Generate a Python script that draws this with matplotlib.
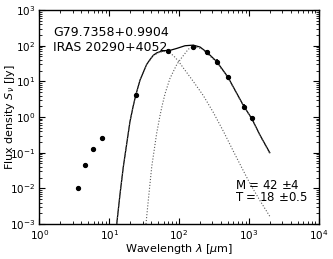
import numpy as np
import matplotlib
matplotlib.use("Agg")
import matplotlib.pyplot as plt

# photometry (IRAC, no error bars)
wav_irac = [3.6, 4.5, 5.8, 8.0]
flux_irac = [0.010, 0.045, 0.13, 0.26]

# photometry used in the fit
wav_fit = [24, 70, 160, 250, 350, 500, 850, 1100]
flux_fit = [4.1, 72, 93, 65, 36, 13.5, 1.95, 0.92]
err_fit = [0.6, 11, 14, 10, 5.4, 2.0, 0.3, 0.14]

# total SED model
wav_tot = [12.8, 14.3, 15.9, 17.8, 19.8, 22, 24, 27.6, 34.4, 38.4, 42.8, 47.9,
           53.4, 63, 74, 92.7, 122, 160, 200, 255, 347, 499, 850, 1100, 1450, 2000]
flux_tot = [1e-3, 0.0072, 0.040, 0.18, 0.74, 2.0, 4.1, 10.9, 30, 41, 54, 63,
            68, 73, 74, 84, 100, 104, 92, 64, 36, 13.5, 2.0, 0.92, 0.31, 0.1]

# warm component
wav_warm = [12.8, 14.3, 15.9, 17.8, 19.8, 22, 24, 27.6, 34.4, 42.8, 53.4, 63, 74,
            83, 98, 115, 160, 223, 310, 432, 601, 793, 1042, 1449, 2017]
flux_warm = [1e-3, 0.0072, 0.040, 0.18, 0.74, 2.0, 4.1, 10.9, 30, 53, 67, 69, 62,
             53, 37, 24, 10, 4.0, 1.35, 0.40, 0.11, 0.038, 0.0135, 0.0045, 0.0016]

# cold component
wav_cold = [33.6, 36.3, 40.6, 47.8, 53.4, 57, 63, 74, 83, 93, 109, 136, 160,
            211, 255, 347, 499, 850, 1100, 1450, 2000]
flux_cold = [1e-3, 0.0047, 0.040, 0.35, 1.1, 2.0, 4.5, 12, 19, 30, 46, 80, 95,
             82, 60, 34, 13, 1.95, 0.9, 0.3, 0.095]

fig = plt.figure(figsize=(3.33, 2.59), dpi=100)
ax = fig.add_axes([0.1186, 0.1351, 0.838, 0.826])

ax.plot(wav_tot, flux_tot, 'k-', lw=0.9)
ax.plot(wav_warm, flux_warm, ls=':', color='0.35', lw=0.8)
ax.plot(wav_cold, flux_cold, ls=':', color='0.35', lw=0.8)
ax.plot(wav_irac, flux_irac, 'ko', ms=2.8)
ax.errorbar(wav_fit, flux_fit, yerr=err_fit, fmt='ko', ms=2.8, elinewidth=1.2, capsize=0)

ax.set_xscale('log')
ax.set_yscale('log')
ax.set_xlim(1, 1e4)
ax.set_ylim(1e-3, 1e3)

ax.tick_params(which='both', direction='in', top=True, right=True, labelsize=7.5, pad=3)
ax.tick_params(which='major', length=4, width=0.8)
ax.tick_params(which='minor', length=2, width=0.6)
for s in ax.spines.values():
    s.set_linewidth(1.0)

ax.set_xlabel(r'Wavelength $\lambda$ [$\mu$m]', fontsize=8)
ax.set_ylabel(r'Flux density $S_\nu$ [Jy]', fontsize=8)
ax.xaxis.set_label_coords(0.5, -0.118)
ax.xaxis.label.set_va('center')
ax.yaxis.set_label_coords(-0.104, 0.5)
ax.yaxis.label.set_va('center')

ax.text(0.048, 0.897, 'G79.7358+0.9904', transform=ax.transAxes, fontsize=9, va='center')
ax.text(0.048, 0.827, 'IRAS 20290+4052', transform=ax.transAxes, fontsize=9, va='center')
ax.text(0.70, 0.182, r'M = 42 $\pm$4', transform=ax.transAxes, fontsize=8.5, va='center')
ax.text(0.70, 0.123, r'T = 18 $\pm$0.5', transform=ax.transAxes, fontsize=8.5, va='center')

fig.savefig('out.png', dpi=100)
